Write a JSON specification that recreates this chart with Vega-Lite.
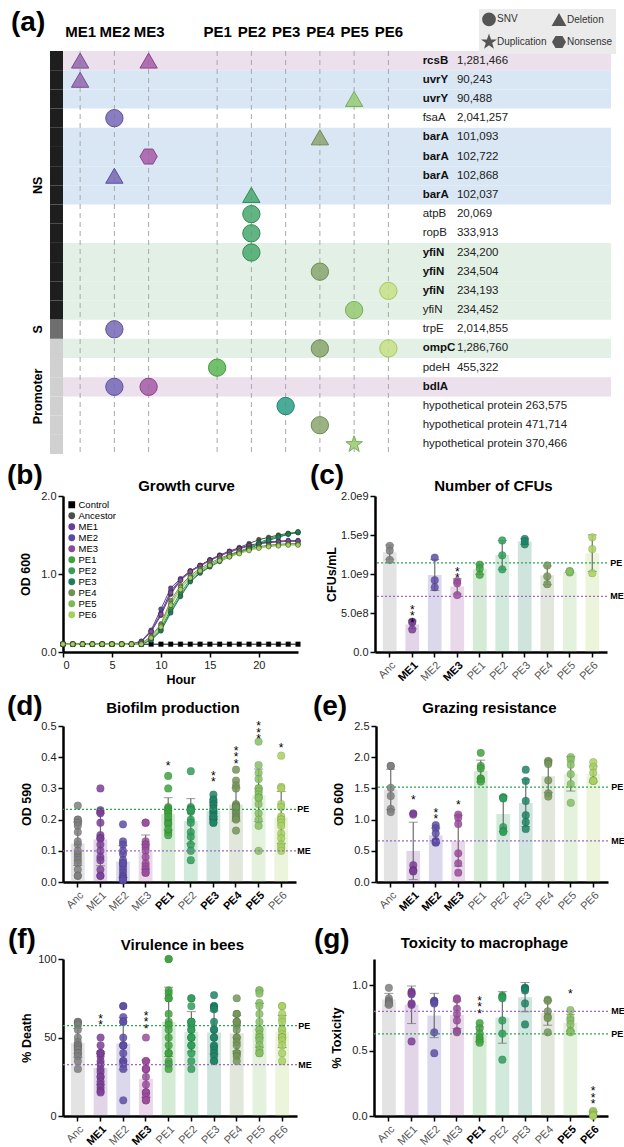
{
"$schema": "https://vega.github.io/schema/vega-lite/v6.json",
"background": "white",
"padding": {"left": 6, "top": 9, "right": 0, "bottom": 0},
"config": {
  "font": "Liberation Sans",
  "view": {"stroke": null},
  "axis": {"domainColor": "#000", "domainWidth": 2.5, "tickColor": "#000", "tickWidth": 1.5, "tickSize": 5, "labelFontSize": 11, "labelColor": "#222", "titleFontSize": 12.5, "titleFontWeight": "bold", "titleColor": "#000", "grid": false, "labelPadding": 2, "labelOverlap": false},
  "text": {"color": "#000"}
},
"resolve": {"scale": {"color": "independent", "fill": "independent", "stroke": "independent", "shape": "independent"}, "legend": {"color": "independent", "fill": "independent", "stroke": "independent", "shape": "independent"}},
"datasets": {
  "arows": [
    {"id": "rcsB 1,281,466", "gene": "rcsB", "pos": "1,281,466", "b": 1, "band": "purple", "cat": "NS"},
    {"id": "uvrY 90,243", "gene": "uvrY", "pos": "90,243", "b": 1, "band": "blue", "cat": "NS"},
    {"id": "uvrY 90,488", "gene": "uvrY", "pos": "90,488", "b": 1, "band": "blue", "cat": "NS"},
    {"id": "fsaA 2,041,257", "gene": "fsaA", "pos": "2,041,257", "b": 0, "band": "none", "cat": "NS"},
    {"id": "barA 101,093", "gene": "barA", "pos": "101,093", "b": 1, "band": "blue", "cat": "NS"},
    {"id": "barA 102,722", "gene": "barA", "pos": "102,722", "b": 1, "band": "blue", "cat": "NS"},
    {"id": "barA 102,868", "gene": "barA", "pos": "102,868", "b": 1, "band": "blue", "cat": "NS"},
    {"id": "barA 102,037", "gene": "barA", "pos": "102,037", "b": 1, "band": "blue", "cat": "NS"},
    {"id": "atpB 20,069", "gene": "atpB", "pos": "20,069", "b": 0, "band": "none", "cat": "NS"},
    {"id": "ropB 333,913", "gene": "ropB", "pos": "333,913", "b": 0, "band": "none", "cat": "NS"},
    {"id": "yfiN 234,200", "gene": "yfiN", "pos": "234,200", "b": 1, "band": "green", "cat": "NS"},
    {"id": "yfiN 234,504", "gene": "yfiN", "pos": "234,504", "b": 1, "band": "green", "cat": "NS"},
    {"id": "yfiN 234,193", "gene": "yfiN", "pos": "234,193", "b": 1, "band": "green", "cat": "NS"},
    {"id": "yfiN 234,452", "gene": "yfiN", "pos": "234,452", "b": 0, "band": "green", "cat": "NS"},
    {"id": "trpE 2,014,855", "gene": "trpE", "pos": "2,014,855", "b": 0, "band": "none", "cat": "S"},
    {"id": "ompC 1,286,760", "gene": "ompC", "pos": "1,286,760", "b": 1, "band": "green", "cat": "Promoter"},
    {"id": "pdeH 455,322", "gene": "pdeH", "pos": "455,322", "b": 0, "band": "none", "cat": "Promoter"},
    {"id": "bdlA", "gene": "bdlA", "pos": "", "b": 1, "band": "purple", "cat": "Promoter"},
    {"id": "hypothetical protein 263,575", "gene": "hypothetical protein 263,575", "pos": "", "b": 0, "band": "none", "cat": "Promoter"},
    {"id": "hypothetical protein 471,714", "gene": "hypothetical protein 471,714", "pos": "", "b": 0, "band": "none", "cat": "Promoter"},
    {"id": "hypothetical protein 370,466", "gene": "hypothetical protein 370,466", "pos": "", "b": 0, "band": "none", "cat": "Promoter"}
  ],
  "acols": [{"col": "ME1"}, {"col": "ME2"}, {"col": "ME3"}, {"col": "PE1"}, {"col": "PE2"}, {"col": "PE3"}, {"col": "PE4"}, {"col": "PE5"}, {"col": "PE6"}],
  "muts": [
    {"id": "rcsB 1,281,466", "col": "ME1", "type": "Deletion"},
    {"id": "rcsB 1,281,466", "col": "ME3", "type": "Deletion"},
    {"id": "uvrY 90,243", "col": "ME1", "type": "Deletion"},
    {"id": "uvrY 90,488", "col": "PE5", "type": "Deletion"},
    {"id": "fsaA 2,041,257", "col": "ME2", "type": "SNV"},
    {"id": "barA 101,093", "col": "PE4", "type": "Deletion"},
    {"id": "barA 102,722", "col": "ME3", "type": "Nonsense"},
    {"id": "barA 102,868", "col": "ME2", "type": "Deletion"},
    {"id": "barA 102,037", "col": "PE2", "type": "Deletion"},
    {"id": "atpB 20,069", "col": "PE2", "type": "SNV"},
    {"id": "ropB 333,913", "col": "PE2", "type": "SNV"},
    {"id": "yfiN 234,200", "col": "PE2", "type": "SNV"},
    {"id": "yfiN 234,504", "col": "PE4", "type": "SNV"},
    {"id": "yfiN 234,193", "col": "PE6", "type": "SNV"},
    {"id": "yfiN 234,452", "col": "PE5", "type": "SNV"},
    {"id": "trpE 2,014,855", "col": "ME2", "type": "SNV"},
    {"id": "ompC 1,286,760", "col": "PE4", "type": "SNV"},
    {"id": "ompC 1,286,760", "col": "PE6", "type": "SNV"},
    {"id": "pdeH 455,322", "col": "PE1", "type": "SNV"},
    {"id": "bdlA", "col": "ME2", "type": "SNV"},
    {"id": "bdlA", "col": "ME3", "type": "SNV"},
    {"id": "hypothetical protein 263,575", "col": "PE3", "type": "SNV"},
    {"id": "hypothetical protein 471,714", "col": "PE4", "type": "SNV"},
    {"id": "hypothetical protein 370,466", "col": "PE5", "type": "Duplication"}
  ],
  "growth": [
    {"h": 0, "Control": 0.1, "Ancestor": 0.1, "ME1": 0.1, "ME2": 0.1, "ME3": 0.1, "PE1": 0.1, "PE2": 0.1, "PE3": 0.1, "PE4": 0.1, "PE5": 0.1, "PE6": 0.1},
    {"h": 1, "Control": 0.1, "Ancestor": 0.1, "ME1": 0.1, "ME2": 0.1, "ME3": 0.1, "PE1": 0.1, "PE2": 0.1, "PE3": 0.1, "PE4": 0.1, "PE5": 0.1, "PE6": 0.1},
    {"h": 2, "Control": 0.1, "Ancestor": 0.1, "ME1": 0.1, "ME2": 0.1, "ME3": 0.1, "PE1": 0.1, "PE2": 0.1, "PE3": 0.1, "PE4": 0.1, "PE5": 0.1, "PE6": 0.1},
    {"h": 3, "Control": 0.1, "Ancestor": 0.1, "ME1": 0.1, "ME2": 0.1, "ME3": 0.1, "PE1": 0.1, "PE2": 0.1, "PE3": 0.1, "PE4": 0.1, "PE5": 0.1, "PE6": 0.1},
    {"h": 4, "Control": 0.1, "Ancestor": 0.1, "ME1": 0.1, "ME2": 0.1, "ME3": 0.1, "PE1": 0.1, "PE2": 0.1, "PE3": 0.1, "PE4": 0.1, "PE5": 0.1, "PE6": 0.1},
    {"h": 5, "Control": 0.1, "Ancestor": 0.1, "ME1": 0.1, "ME2": 0.1, "ME3": 0.1, "PE1": 0.1, "PE2": 0.1, "PE3": 0.1, "PE4": 0.1, "PE5": 0.1, "PE6": 0.1},
    {"h": 6, "Control": 0.1, "Ancestor": 0.1, "ME1": 0.1, "ME2": 0.1, "ME3": 0.1, "PE1": 0.1, "PE2": 0.1, "PE3": 0.1, "PE4": 0.1, "PE5": 0.1, "PE6": 0.1},
    {"h": 7, "Control": 0.1, "Ancestor": 0.1, "ME1": 0.1, "ME2": 0.1, "ME3": 0.1, "PE1": 0.1, "PE2": 0.1, "PE3": 0.1, "PE4": 0.1, "PE5": 0.1, "PE6": 0.1},
    {"h": 8, "Control": 0.1, "Ancestor": 0.13, "ME1": 0.13, "ME2": 0.14, "ME3": 0.13, "PE1": 0.1, "PE2": 0.1, "PE3": 0.1, "PE4": 0.11, "PE5": 0.11, "PE6": 0.1},
    {"h": 9, "Control": 0.1, "Ancestor": 0.26, "ME1": 0.27, "ME2": 0.28, "ME3": 0.26, "PE1": 0.17, "PE2": 0.16, "PE3": 0.15, "PE4": 0.2, "PE5": 0.19, "PE6": 0.18},
    {"h": 10, "Control": 0.1, "Ancestor": 0.47, "ME1": 0.5, "ME2": 0.55, "ME3": 0.48, "PE1": 0.3, "PE2": 0.28, "PE3": 0.27, "PE4": 0.36, "PE5": 0.34, "PE6": 0.32},
    {"h": 11, "Control": 0.1, "Ancestor": 0.74, "ME1": 0.78, "ME2": 0.82, "ME3": 0.76, "PE1": 0.55, "PE2": 0.52, "PE3": 0.5, "PE4": 0.66, "PE5": 0.62, "PE6": 0.6},
    {"h": 12, "Control": 0.1, "Ancestor": 0.92, "ME1": 0.93, "ME2": 0.94, "ME3": 0.92, "PE1": 0.76, "PE2": 0.73, "PE3": 0.71, "PE4": 0.85, "PE5": 0.83, "PE6": 0.8},
    {"h": 13, "Control": 0.1, "Ancestor": 1.03, "ME1": 1.04, "ME2": 1.04, "ME3": 1.03, "PE1": 0.93, "PE2": 0.91, "PE3": 0.9, "PE4": 0.98, "PE5": 0.96, "PE6": 0.95},
    {"h": 14, "Control": 0.1, "Ancestor": 1.11, "ME1": 1.11, "ME2": 1.11, "ME3": 1.1, "PE1": 1.04, "PE2": 1.02, "PE3": 1.01, "PE4": 1.07, "PE5": 1.05, "PE6": 1.04},
    {"h": 15, "Control": 0.1, "Ancestor": 1.18, "ME1": 1.18, "ME2": 1.18, "ME3": 1.17, "PE1": 1.12, "PE2": 1.1, "PE3": 1.09, "PE4": 1.14, "PE5": 1.12, "PE6": 1.11},
    {"h": 16, "Control": 0.1, "Ancestor": 1.24, "ME1": 1.24, "ME2": 1.24, "ME3": 1.23, "PE1": 1.18, "PE2": 1.17, "PE3": 1.16, "PE4": 1.2, "PE5": 1.18, "PE6": 1.17},
    {"h": 17, "Control": 0.1, "Ancestor": 1.29, "ME1": 1.29, "ME2": 1.29, "ME3": 1.28, "PE1": 1.24, "PE2": 1.23, "PE3": 1.22, "PE4": 1.25, "PE5": 1.23, "PE6": 1.22},
    {"h": 18, "Control": 0.1, "Ancestor": 1.34, "ME1": 1.33, "ME2": 1.33, "ME3": 1.32, "PE1": 1.29, "PE2": 1.28, "PE3": 1.27, "PE4": 1.29, "PE5": 1.27, "PE6": 1.26},
    {"h": 19, "Control": 0.1, "Ancestor": 1.39, "ME1": 1.37, "ME2": 1.36, "ME3": 1.36, "PE1": 1.34, "PE2": 1.33, "PE3": 1.32, "PE4": 1.32, "PE5": 1.31, "PE6": 1.3},
    {"h": 20, "Control": 0.1, "Ancestor": 1.44, "ME1": 1.39, "ME2": 1.39, "ME3": 1.39, "PE1": 1.4, "PE2": 1.39, "PE3": 1.38, "PE4": 1.35, "PE5": 1.34, "PE6": 1.33},
    {"h": 21, "Control": 0.1, "Ancestor": 1.47, "ME1": 1.41, "ME2": 1.41, "ME3": 1.4, "PE1": 1.45, "PE2": 1.44, "PE3": 1.43, "PE4": 1.37, "PE5": 1.36, "PE6": 1.35},
    {"h": 22, "Control": 0.1, "Ancestor": 1.5, "ME1": 1.42, "ME2": 1.42, "ME3": 1.41, "PE1": 1.49, "PE2": 1.48, "PE3": 1.47, "PE4": 1.38, "PE5": 1.37, "PE6": 1.36},
    {"h": 23, "Control": 0.1, "Ancestor": 1.52, "ME1": 1.42, "ME2": 1.43, "ME3": 1.42, "PE1": 1.52, "PE2": 1.51, "PE3": 1.51, "PE4": 1.39, "PE5": 1.38, "PE6": 1.37},
    {"h": 24, "Control": 0.1, "Ancestor": 1.53, "ME1": 1.42, "ME2": 1.43, "ME3": 1.42, "PE1": 1.54, "PE2": 1.53, "PE3": 1.54, "PE4": 1.39, "PE5": 1.38, "PE6": 1.37}
  ],
  "cfu": [
    {"g": "Anc", "v": 1360000000}, {"g": "Anc", "v": 1300000000}, {"g": "Anc", "v": 1180000000},
    {"g": "ME1", "v": 390000000}, {"g": "ME1", "v": 380000000}, {"g": "ME1", "v": 290000000},
    {"g": "ME2", "v": 1210000000}, {"g": "ME2", "v": 920000000}, {"g": "ME2", "v": 830000000},
    {"g": "ME3", "v": 910000000}, {"g": "ME3", "v": 880000000}, {"g": "ME3", "v": 730000000},
    {"g": "PE1", "v": 1120000000}, {"g": "PE1", "v": 1070000000}, {"g": "PE1", "v": 990000000},
    {"g": "PE2", "v": 1430000000}, {"g": "PE2", "v": 1240000000}, {"g": "PE2", "v": 1060000000},
    {"g": "PE3", "v": 1450000000}, {"g": "PE3", "v": 1380000000}, {"g": "PE3", "v": 1420000000},
    {"g": "PE4", "v": 1110000000}, {"g": "PE4", "v": 970000000}, {"g": "PE4", "v": 870000000},
    {"g": "PE5", "v": 1020000000}, {"g": "PE5", "v": 1040000000}, {"g": "PE5", "v": 1030000000},
    {"g": "PE6", "v": 1470000000}, {"g": "PE6", "v": 1320000000}, {"g": "PE6", "v": 1010000000}
  ],
  "bio": [
    {"g": "Anc", "v": 0.245}, {"g": "Anc", "v": 0.2}, {"g": "Anc", "v": 0.19}, {"g": "Anc", "v": 0.2}, {"g": "Anc", "v": 0.19}, {"g": "Anc", "v": 0.18}, {"g": "Anc", "v": 0.16}, {"g": "Anc", "v": 0.12}, {"g": "Anc", "v": 0.09}, {"g": "Anc", "v": 0.08}, {"g": "Anc", "v": 0.07}, {"g": "Anc", "v": 0.06}, {"g": "Anc", "v": 0.04}, {"g": "Anc", "v": 0.02}, {"g": "Anc", "v": 0.02}, {"g": "Anc", "v": 0.1}, {"g": "Anc", "v": 0.13},
    {"g": "ME1", "v": 0.3}, {"g": "ME1", "v": 0.23}, {"g": "ME1", "v": 0.225}, {"g": "ME1", "v": 0.22}, {"g": "ME1", "v": 0.19}, {"g": "ME1", "v": 0.15}, {"g": "ME1", "v": 0.14}, {"g": "ME1", "v": 0.14}, {"g": "ME1", "v": 0.12}, {"g": "ME1", "v": 0.1}, {"g": "ME1", "v": 0.08}, {"g": "ME1", "v": 0.07}, {"g": "ME1", "v": 0.04}, {"g": "ME1", "v": 0.02}, {"g": "ME1", "v": 0.02},
    {"g": "ME2", "v": 0.185}, {"g": "ME2", "v": 0.13}, {"g": "ME2", "v": 0.12}, {"g": "ME2", "v": 0.1}, {"g": "ME2", "v": 0.09}, {"g": "ME2", "v": 0.07}, {"g": "ME2", "v": 0.06}, {"g": "ME2", "v": 0.05}, {"g": "ME2", "v": 0.04}, {"g": "ME2", "v": 0.03}, {"g": "ME2", "v": 0.02}, {"g": "ME2", "v": 0.015}, {"g": "ME2", "v": 0.01}, {"g": "ME2", "v": 0.005}, {"g": "ME2", "v": 0.06},
    {"g": "ME3", "v": 0.19}, {"g": "ME3", "v": 0.19}, {"g": "ME3", "v": 0.13}, {"g": "ME3", "v": 0.12}, {"g": "ME3", "v": 0.12}, {"g": "ME3", "v": 0.11}, {"g": "ME3", "v": 0.1}, {"g": "ME3", "v": 0.08}, {"g": "ME3", "v": 0.06}, {"g": "ME3", "v": 0.05}, {"g": "ME3", "v": 0.04}, {"g": "ME3", "v": 0.03}, {"g": "ME3", "v": 0.03},
    {"g": "PE1", "v": 0.34}, {"g": "PE1", "v": 0.3}, {"g": "PE1", "v": 0.24}, {"g": "PE1", "v": 0.235}, {"g": "PE1", "v": 0.23}, {"g": "PE1", "v": 0.225}, {"g": "PE1", "v": 0.22}, {"g": "PE1", "v": 0.2}, {"g": "PE1", "v": 0.19}, {"g": "PE1", "v": 0.185}, {"g": "PE1", "v": 0.16}, {"g": "PE1", "v": 0.15}, {"g": "PE1", "v": 0.17}, {"g": "PE1", "v": 0.21},
    {"g": "PE2", "v": 0.355}, {"g": "PE2", "v": 0.24}, {"g": "PE2", "v": 0.235}, {"g": "PE2", "v": 0.23}, {"g": "PE2", "v": 0.23}, {"g": "PE2", "v": 0.225}, {"g": "PE2", "v": 0.2}, {"g": "PE2", "v": 0.19}, {"g": "PE2", "v": 0.16}, {"g": "PE2", "v": 0.145}, {"g": "PE2", "v": 0.12}, {"g": "PE2", "v": 0.1}, {"g": "PE2", "v": 0.07}, {"g": "PE2", "v": 0.23},
    {"g": "PE3", "v": 0.28}, {"g": "PE3", "v": 0.265}, {"g": "PE3", "v": 0.26}, {"g": "PE3", "v": 0.25}, {"g": "PE3", "v": 0.245}, {"g": "PE3", "v": 0.23}, {"g": "PE3", "v": 0.225}, {"g": "PE3", "v": 0.22}, {"g": "PE3", "v": 0.21}, {"g": "PE3", "v": 0.205}, {"g": "PE3", "v": 0.2}, {"g": "PE3", "v": 0.19}, {"g": "PE3", "v": 0.19}, {"g": "PE3", "v": 0.21}, {"g": "PE3", "v": 0.235},
    {"g": "PE4", "v": 0.36}, {"g": "PE4", "v": 0.325}, {"g": "PE4", "v": 0.31}, {"g": "PE4", "v": 0.3}, {"g": "PE4", "v": 0.25}, {"g": "PE4", "v": 0.245}, {"g": "PE4", "v": 0.24}, {"g": "PE4", "v": 0.235}, {"g": "PE4", "v": 0.225}, {"g": "PE4", "v": 0.22}, {"g": "PE4", "v": 0.21}, {"g": "PE4", "v": 0.205}, {"g": "PE4", "v": 0.2}, {"g": "PE4", "v": 0.165}, {"g": "PE4", "v": 0.24},
    {"g": "PE5", "v": 0.45}, {"g": "PE5", "v": 0.375}, {"g": "PE5", "v": 0.35}, {"g": "PE5", "v": 0.33}, {"g": "PE5", "v": 0.3}, {"g": "PE5", "v": 0.3}, {"g": "PE5", "v": 0.29}, {"g": "PE5", "v": 0.28}, {"g": "PE5", "v": 0.27}, {"g": "PE5", "v": 0.25}, {"g": "PE5", "v": 0.22}, {"g": "PE5", "v": 0.2}, {"g": "PE5", "v": 0.18}, {"g": "PE5", "v": 0.1}, {"g": "PE5", "v": 0.27},
    {"g": "PE6", "v": 0.405}, {"g": "PE6", "v": 0.305}, {"g": "PE6", "v": 0.3}, {"g": "PE6", "v": 0.25}, {"g": "PE6", "v": 0.24}, {"g": "PE6", "v": 0.21}, {"g": "PE6", "v": 0.2}, {"g": "PE6", "v": 0.2}, {"g": "PE6", "v": 0.19}, {"g": "PE6", "v": 0.18}, {"g": "PE6", "v": 0.155}, {"g": "PE6", "v": 0.14}, {"g": "PE6", "v": 0.12}, {"g": "PE6", "v": 0.11}, {"g": "PE6", "v": 0.1}
  ],
  "graz": [
    {"g": "Anc", "v": 1.86}, {"g": "Anc", "v": 1.86}, {"g": "Anc", "v": 1.51}, {"g": "Anc", "v": 1.38}, {"g": "Anc", "v": 1.17}, {"g": "Anc", "v": 1.12},
    {"g": "ME1", "v": 1.1}, {"g": "ME1", "v": 1.08}, {"g": "ME1", "v": 0.27}, {"g": "ME1", "v": 0.19}, {"g": "ME1", "v": 0.18}, {"g": "ME1", "v": 0.17},
    {"g": "ME2", "v": 0.91}, {"g": "ME2", "v": 0.86}, {"g": "ME2", "v": 0.78}, {"g": "ME2", "v": 0.66}, {"g": "ME2", "v": 0.64}, {"g": "ME2", "v": 0.63},
    {"g": "ME3", "v": 1.08}, {"g": "ME3", "v": 1.03}, {"g": "ME3", "v": 0.93}, {"g": "ME3", "v": 0.46}, {"g": "ME3", "v": 0.3}, {"g": "ME3", "v": 0.15},
    {"g": "PE1", "v": 2.07}, {"g": "PE1", "v": 1.86}, {"g": "PE1", "v": 1.82}, {"g": "PE1", "v": 1.66}, {"g": "PE1", "v": 1.65}, {"g": "PE1", "v": 1.61},
    {"g": "PE2", "v": 1.36}, {"g": "PE2", "v": 1.35}, {"g": "PE2", "v": 1.34}, {"g": "PE2", "v": 0.88}, {"g": "PE2", "v": 0.82}, {"g": "PE2", "v": 0.8},
    {"g": "PE3", "v": 1.8}, {"g": "PE3", "v": 1.62}, {"g": "PE3", "v": 1.3}, {"g": "PE3", "v": 1.07}, {"g": "PE3", "v": 0.96}, {"g": "PE3", "v": 0.85},
    {"g": "PE4", "v": 1.94}, {"g": "PE4", "v": 1.92}, {"g": "PE4", "v": 1.89}, {"g": "PE4", "v": 1.63}, {"g": "PE4", "v": 1.42}, {"g": "PE4", "v": 1.37},
    {"g": "PE5", "v": 2.0}, {"g": "PE5", "v": 1.96}, {"g": "PE5", "v": 1.88}, {"g": "PE5", "v": 1.73}, {"g": "PE5", "v": 1.57}, {"g": "PE5", "v": 1.27},
    {"g": "PE6", "v": 1.92}, {"g": "PE6", "v": 1.84}, {"g": "PE6", "v": 1.75}, {"g": "PE6", "v": 1.63}, {"g": "PE6", "v": 1.62}, {"g": "PE6", "v": 1.62}
  ],
  "bee": [
    {"g": "Anc", "v": 60}, {"g": "Anc", "v": 60}, {"g": "Anc", "v": 59}, {"g": "Anc", "v": 58}, {"g": "Anc", "v": 55}, {"g": "Anc", "v": 50}, {"g": "Anc", "v": 47}, {"g": "Anc", "v": 45}, {"g": "Anc", "v": 45}, {"g": "Anc", "v": 44}, {"g": "Anc", "v": 43}, {"g": "Anc", "v": 42}, {"g": "Anc", "v": 40}, {"g": "Anc", "v": 40}, {"g": "Anc", "v": 38}, {"g": "Anc", "v": 35}, {"g": "Anc", "v": 30},
    {"g": "ME1", "v": 50}, {"g": "ME1", "v": 45}, {"g": "ME1", "v": 40}, {"g": "ME1", "v": 40}, {"g": "ME1", "v": 38}, {"g": "ME1", "v": 35}, {"g": "ME1", "v": 33}, {"g": "ME1", "v": 30}, {"g": "ME1", "v": 28}, {"g": "ME1", "v": 25}, {"g": "ME1", "v": 25}, {"g": "ME1", "v": 22}, {"g": "ME1", "v": 20}, {"g": "ME1", "v": 18}, {"g": "ME1", "v": 16}, {"g": "ME1", "v": 15}, {"g": "ME1", "v": 40},
    {"g": "ME2", "v": 70}, {"g": "ME2", "v": 70}, {"g": "ME2", "v": 63}, {"g": "ME2", "v": 60}, {"g": "ME2", "v": 60}, {"g": "ME2", "v": 50}, {"g": "ME2", "v": 45}, {"g": "ME2", "v": 45}, {"g": "ME2", "v": 40}, {"g": "ME2", "v": 35}, {"g": "ME2", "v": 35}, {"g": "ME2", "v": 33}, {"g": "ME2", "v": 30}, {"g": "ME2", "v": 10}, {"g": "ME2", "v": 45},
    {"g": "ME3", "v": 50}, {"g": "ME3", "v": 35}, {"g": "ME3", "v": 35}, {"g": "ME3", "v": 30}, {"g": "ME3", "v": 30}, {"g": "ME3", "v": 25}, {"g": "ME3", "v": 20}, {"g": "ME3", "v": 15}, {"g": "ME3", "v": 15}, {"g": "ME3", "v": 15}, {"g": "ME3", "v": 12}, {"g": "ME3", "v": 10}, {"g": "ME3", "v": 10}, {"g": "ME3", "v": 30},
    {"g": "PE1", "v": 100}, {"g": "PE1", "v": 100}, {"g": "PE1", "v": 80}, {"g": "PE1", "v": 78}, {"g": "PE1", "v": 75}, {"g": "PE1", "v": 75}, {"g": "PE1", "v": 65}, {"g": "PE1", "v": 60}, {"g": "PE1", "v": 58}, {"g": "PE1", "v": 55}, {"g": "PE1", "v": 50}, {"g": "PE1", "v": 45}, {"g": "PE1", "v": 40}, {"g": "PE1", "v": 40}, {"g": "PE1", "v": 35}, {"g": "PE1", "v": 33}, {"g": "PE1", "v": 30},
    {"g": "PE2", "v": 75}, {"g": "PE2", "v": 75}, {"g": "PE2", "v": 70}, {"g": "PE2", "v": 60}, {"g": "PE2", "v": 60}, {"g": "PE2", "v": 58}, {"g": "PE2", "v": 55}, {"g": "PE2", "v": 55}, {"g": "PE2", "v": 50}, {"g": "PE2", "v": 50}, {"g": "PE2", "v": 50}, {"g": "PE2", "v": 45}, {"g": "PE2", "v": 45}, {"g": "PE2", "v": 40}, {"g": "PE2", "v": 35}, {"g": "PE2", "v": 30}, {"g": "PE2", "v": 60},
    {"g": "PE3", "v": 77}, {"g": "PE3", "v": 70}, {"g": "PE3", "v": 70}, {"g": "PE3", "v": 69}, {"g": "PE3", "v": 68}, {"g": "PE3", "v": 60}, {"g": "PE3", "v": 55}, {"g": "PE3", "v": 55}, {"g": "PE3", "v": 50}, {"g": "PE3", "v": 45}, {"g": "PE3", "v": 44}, {"g": "PE3", "v": 42}, {"g": "PE3", "v": 40}, {"g": "PE3", "v": 38}, {"g": "PE3", "v": 35}, {"g": "PE3", "v": 35}, {"g": "PE3", "v": 50},
    {"g": "PE4", "v": 75}, {"g": "PE4", "v": 65}, {"g": "PE4", "v": 65}, {"g": "PE4", "v": 60}, {"g": "PE4", "v": 60}, {"g": "PE4", "v": 58}, {"g": "PE4", "v": 55}, {"g": "PE4", "v": 50}, {"g": "PE4", "v": 50}, {"g": "PE4", "v": 47}, {"g": "PE4", "v": 45}, {"g": "PE4", "v": 40}, {"g": "PE4", "v": 40}, {"g": "PE4", "v": 38}, {"g": "PE4", "v": 35}, {"g": "PE4", "v": 60},
    {"g": "PE5", "v": 80}, {"g": "PE5", "v": 80}, {"g": "PE5", "v": 78}, {"g": "PE5", "v": 72}, {"g": "PE5", "v": 70}, {"g": "PE5", "v": 65}, {"g": "PE5", "v": 60}, {"g": "PE5", "v": 55}, {"g": "PE5", "v": 55}, {"g": "PE5", "v": 52}, {"g": "PE5", "v": 50}, {"g": "PE5", "v": 50}, {"g": "PE5", "v": 48}, {"g": "PE5", "v": 45}, {"g": "PE5", "v": 42}, {"g": "PE5", "v": 40}, {"g": "PE5", "v": 40},
    {"g": "PE6", "v": 70}, {"g": "PE6", "v": 70}, {"g": "PE6", "v": 65}, {"g": "PE6", "v": 62}, {"g": "PE6", "v": 60}, {"g": "PE6", "v": 55}, {"g": "PE6", "v": 55}, {"g": "PE6", "v": 52}, {"g": "PE6", "v": 50}, {"g": "PE6", "v": 50}, {"g": "PE6", "v": 50}, {"g": "PE6", "v": 48}, {"g": "PE6", "v": 45}, {"g": "PE6", "v": 40}, {"g": "PE6", "v": 35}
  ],
  "tox": [
    {"g": "Anc", "v": 0.98}, {"g": "Anc", "v": 0.9}, {"g": "Anc", "v": 0.88}, {"g": "Anc", "v": 0.87}, {"g": "Anc", "v": 0.86}, {"g": "Anc", "v": 0.85},
    {"g": "ME1", "v": 0.95}, {"g": "ME1", "v": 0.94}, {"g": "ME1", "v": 0.93}, {"g": "ME1", "v": 0.86}, {"g": "ME1", "v": 0.85}, {"g": "ME1", "v": 0.57},
    {"g": "ME2", "v": 0.88}, {"g": "ME2", "v": 0.88}, {"g": "ME2", "v": 0.87}, {"g": "ME2", "v": 0.86}, {"g": "ME2", "v": 0.64}, {"g": "ME2", "v": 0.48},
    {"g": "ME3", "v": 0.9}, {"g": "ME3", "v": 0.89}, {"g": "ME3", "v": 0.82}, {"g": "ME3", "v": 0.78}, {"g": "ME3", "v": 0.73}, {"g": "ME3", "v": 0.65}, {"g": "ME3", "v": 0.64},
    {"g": "PE1", "v": 0.71}, {"g": "PE1", "v": 0.67}, {"g": "PE1", "v": 0.63}, {"g": "PE1", "v": 0.6}, {"g": "PE1", "v": 0.58}, {"g": "PE1", "v": 0.56},
    {"g": "PE2", "v": 0.92}, {"g": "PE2", "v": 0.91}, {"g": "PE2", "v": 0.9}, {"g": "PE2", "v": 0.73}, {"g": "PE2", "v": 0.63}, {"g": "PE2", "v": 0.43},
    {"g": "PE3", "v": 0.98}, {"g": "PE3", "v": 0.98}, {"g": "PE3", "v": 0.97}, {"g": "PE3", "v": 0.96}, {"g": "PE3", "v": 0.86}, {"g": "PE3", "v": 0.7},
    {"g": "PE4", "v": 0.89}, {"g": "PE4", "v": 0.88}, {"g": "PE4", "v": 0.8}, {"g": "PE4", "v": 0.76}, {"g": "PE4", "v": 0.75}, {"g": "PE4", "v": 0.64},
    {"g": "PE5", "v": 0.81}, {"g": "PE5", "v": 0.75}, {"g": "PE5", "v": 0.73}, {"g": "PE5", "v": 0.7}, {"g": "PE5", "v": 0.65}, {"g": "PE5", "v": 0.64},
    {"g": "PE6", "v": 0.04}, {"g": "PE6", "v": 0.03}, {"g": "PE6", "v": 0.02}, {"g": "PE6", "v": 0.01}, {"g": "PE6", "v": 0.005}, {"g": "PE6", "v": 0.0}
  ]
},
"columns": 1,
"align": "none",
"spacing": 13,
"concat": [
 {
  "columns": 1,
  "align": "none",
  "spacing": 7,
  "resolve": {"scale": {"color": "independent", "fill": "independent", "stroke": "independent", "shape": "independent"}, "legend": {"color": "independent", "fill": "independent", "stroke": "independent", "shape": "independent"}},
  "concat": [
   {
    "width": 548, "height": 403,
    "resolve": {"scale": {"x": "independent", "color": "independent", "stroke": "independent"}, "axis": {"x": "independent"}},
    "layer": [
     {
      "resolve": {"scale": {"stroke": "independent", "color": "independent"}},
      "layer": [
       {"data": {"name": "arows"}, "transform": [{"filter": "datum.band != 'none'"}], "mark": {"type": "rect"},
        "encoding": {
         "y": {"field": "id", "type": "nominal", "scale": {"domain": ["rcsB 1,281,466", "uvrY 90,243", "uvrY 90,488", "fsaA 2,041,257", "barA 101,093", "barA 102,722", "barA 102,868", "barA 102,037", "atpB 20,069", "ropB 333,913", "yfiN 234,200", "yfiN 234,504", "yfiN 234,193", "yfiN 234,452", "trpE 2,014,855", "ompC 1,286,760", "pdeH 455,322", "bdlA", "hypothetical protein 263,575", "hypothetical protein 471,714", "hypothetical protein 370,466"], "paddingInner": 0, "paddingOuter": 0}, "axis": null},
         "color": {"field": "band", "type": "nominal", "scale": {"domain": ["purple", "blue", "green"], "range": ["#ebe0ec", "#d9e7f4", "#e2f0e5"]}, "legend": null}}},
       {"data": {"name": "acols"}, "mark": {"type": "rule", "strokeDash": [5, 4], "color": "#a8a8a8", "strokeWidth": 1},
        "encoding": {
         "x": {"field": "col", "type": "nominal", "scale": {"type": "point", "domain": ["ME1", "ME2", "ME3", "_gap", "PE1", "PE2", "PE3", "PE4", "PE5", "PE6", "_gene", "_pos", "_e1", "_e2", "_e3", "_e4"], "padding": 0.5},
           "axis": {"orient": "top", "title": null, "domain": false, "ticks": false, "tickSize": 0, "labelAngle": 0, "labelFontSize": 15, "labelFontWeight": "bold", "labelColor": "#000", "labelPadding": 12, "labelExpr": "indexof(datum.label, '_') == 0 ? '' : datum.label"}}}},
       {"data": {"name": "arows"}, "transform": [{"filter": "datum.b == 1"}], "mark": {"type": "text", "align": "left", "fontSize": 11.5, "fontWeight": "bold", "color": "#111"},
        "encoding": {"x": {"datum": "_gene", "type": "nominal"}, "y": {"field": "id", "type": "nominal", "axis": null}, "text": {"field": "gene"}}},
       {"data": {"name": "arows"}, "transform": [{"filter": "datum.b == 0"}], "mark": {"type": "text", "align": "left", "fontSize": 11.5, "color": "#222"},
        "encoding": {"x": {"datum": "_gene", "type": "nominal"}, "y": {"field": "id", "type": "nominal", "axis": null}, "text": {"field": "gene"}}},
       {"data": {"name": "arows"}, "mark": {"type": "text", "align": "left", "fontSize": 11.5, "color": "#222"},
        "encoding": {"x": {"datum": "_pos", "type": "nominal"}, "y": {"field": "id", "type": "nominal", "axis": null}, "text": {"field": "pos"}}},
       {"data": {"name": "muts"}, "mark": {"type": "point", "filled": true, "size": 300, "fillOpacity": 0.85, "strokeWidth": 1},
        "encoding": {
         "x": {"field": "col", "type": "nominal"},
         "y": {"field": "id", "type": "nominal", "axis": null},
         "shape": {"field": "type", "type": "nominal", "scale": {"domain": ["SNV", "Duplication", "Deletion", "Nonsense"], "range": ["circle", "M0,-1L0.235,-0.324L0.951,-0.309L0.38,0.124L0.588,0.809L0,0.4L-0.588,0.809L-0.38,0.124L-0.951,-0.309L-0.235,-0.324Z", "triangle-up", "M-1,0L-0.5,-0.866L0.5,-0.866L1,0L0.5,0.866L-0.5,0.866Z"]},
           "legend": {"orient": "none", "legendX": 416, "legendY": -42, "title": null, "columns": 2, "fillColor": "#ebebeb", "padding": 3, "symbolSize": 150, "symbolFillColor": "#555555", "symbolStrokeColor": "#555555", "symbolOpacity": 1, "labelFontSize": 10, "labelColor": "#333", "columnPadding": 2, "rowPadding": 3, "labelOffset": 1}},
         "fill": {"field": "col", "type": "nominal", "scale": {"domain": ["ME1", "ME2", "ME3", "PE1", "PE2", "PE3", "PE4", "PE5", "PE6"], "range": ["#9367ad", "#7566b5", "#a45aa6", "#5ab552", "#46a86d", "#2a9d85", "#8aa56f", "#95ca72", "#c6e186"]}, "legend": null},
         "stroke": {"field": "col", "type": "nominal", "scale": {"domain": ["ME1", "ME2", "ME3", "PE1", "PE2", "PE3", "PE4", "PE5", "PE6"], "range": ["#7a4f96", "#5f529e", "#8a468c", "#42983c", "#338a55", "#1d826c", "#6f8b56", "#78ad58", "#a8c565"]}, "legend": null}}}
      ]
     },
     {
      "layer": [
       {"data": {"name": "arows"}, "mark": {"type": "rect"},
        "encoding": {
         "x": {"datum": 0, "type": "quantitative", "scale": {"domain": [0, 1], "range": [-13, 0]}, "axis": null},
         "x2": {"datum": 1},
         "y": {"field": "id", "type": "nominal", "axis": null},
         "color": {"field": "cat", "type": "nominal", "scale": {"domain": ["NS", "S", "Promoter"], "range": ["#1e1e1e", "#6e6e6e", "#d0d0d0"]}, "legend": null}}},
       {"data": {"values": [{"cat": "NS", "at": "barA 102,037"}, {"cat": "Promoter", "at": "hypothetical protein 263,575"}]},
        "mark": {"type": "text", "angle": 270, "baseline": "bottom", "dy": -5, "fontSize": 12.5, "fontWeight": "bold"},
        "encoding": {"x": {"datum": 0, "type": "quantitative"}, "y": {"field": "at", "type": "nominal", "bandPosition": 0, "axis": null}, "text": {"field": "cat"}}},
       {"data": {"values": [{"cat": "S", "at": "trpE 2,014,855"}]},
        "mark": {"type": "text", "angle": 270, "baseline": "bottom", "dy": -5, "fontSize": 12.5, "fontWeight": "bold"},
        "encoding": {"x": {"datum": 0, "type": "quantitative"}, "y": {"field": "at", "type": "nominal", "axis": null}, "text": {"field": "cat"}}},
       {"data": {"values": [{"t": "(a)"}]},
        "mark": {"type": "text", "align": "left", "baseline": "alphabetic", "fontSize": 28, "fontWeight": "bold", "dx": -39, "dy": -20},
        "encoding": {"x": {"datum": 0, "type": "quantitative"}, "y": {"datum": "rcsB 1,281,466", "type": "nominal", "bandPosition": 0, "axis": null}, "text": {"field": "t"}}}
      ]
     }
    ]
   },
   {
    "columns": 2,
    "align": "none",
    "spacing": 7,
    "resolve": {"scale": {"color": "independent", "fill": "independent", "stroke": "independent", "shape": "independent"}, "legend": {"color": "independent", "fill": "independent", "stroke": "independent", "shape": "independent"}},
    "concat": [
     {
      "width": 235, "height": 156,
      "layer": [
       {"data": {"name": "growth"},
        "transform": [{"fold": ["Control", "Ancestor", "ME1", "ME2", "ME3", "PE1", "PE2", "PE3", "PE4", "PE5", "PE6"], "as": ["s", "od"]}],
        "mark": {"type": "line", "strokeWidth": 1},
        "encoding": {
         "x": {"field": "h", "type": "quantitative", "scale": {"domain": [0, 24], "nice": false}, "axis": {"values": [0, 5, 10, 15, 20], "title": "Hour", "titlePadding": 3}},
         "y": {"field": "od", "type": "quantitative", "scale": {"domain": [0, 2], "nice": false}, "axis": {"values": [0, 0.5, 1, 1.5, 2], "format": ".1f", "title": "OD 600", "titlePadding": 8, "labelOverlap": false}},
         "color": {"field": "s", "type": "nominal", "scale": {"domain": ["Control", "Ancestor", "ME1", "ME2", "ME3", "PE1", "PE2", "PE3", "PE4", "PE5", "PE6"], "range": ["#000000", "#4d4d4d", "#6a3d9a", "#5b4aa3", "#8b4c9c", "#3fa33f", "#3a9d5d", "#1f7d5f", "#6f9250", "#7db85b", "#a6d05e"]},
           "legend": {"orient": "top-left", "title": null, "offset": 4, "labelFontSize": 9.5, "symbolSize": 28, "rowPadding": -1.5, "labelOffset": 2, "padding": 0}}}},
       {"data": {"name": "growth"},
        "transform": [{"fold": ["Control", "Ancestor", "ME1", "ME2", "ME3", "PE1", "PE2", "PE3", "PE4", "PE5", "PE6"], "as": ["s", "od"]}],
        "mark": {"type": "point", "filled": true, "size": 22, "opacity": 1, "stroke": "#222", "strokeWidth": 0.4},
        "encoding": {
         "x": {"field": "h", "type": "quantitative", "title": "Hour"},
         "y": {"field": "od", "type": "quantitative", "title": "OD 600"},
         "color": {"field": "s", "type": "nominal", "legend": {"orient": "top-left", "title": null, "offset": 4, "labelFontSize": 9.5, "symbolSize": 28, "rowPadding": -1.5, "labelOffset": 2, "padding": 0}},
         "shape": {"field": "s", "type": "nominal", "scale": {"domain": ["Control", "Ancestor", "ME1", "ME2", "ME3", "PE1", "PE2", "PE3", "PE4", "PE5", "PE6"], "range": ["square", "circle", "circle", "circle", "circle", "circle", "circle", "circle", "circle", "circle", "circle"]}, "legend": {"orient": "top-left", "title": null, "offset": 4, "labelFontSize": 9.5, "symbolSize": 28, "rowPadding": -1.5, "labelOffset": 2, "padding": 0}}}},
       {"data": {"values": [{"t": "Growth curve"}]}, "mark": {"type": "text", "fontSize": 15, "fontWeight": "bold", "baseline": "alphabetic", "dx": 6, "dy": -5},
        "encoding": {"x": {"datum": 12, "type": "quantitative"}, "y": {"datum": 2, "type": "quantitative"}, "text": {"field": "t"}}},
       {"data": {"values": [{"t": "(b)"}]}, "mark": {"type": "text", "fontSize": 28, "fontWeight": "bold", "align": "left", "baseline": "alphabetic", "dx": -56, "dy": -12},
        "encoding": {"x": {"datum": 0, "type": "quantitative"}, "y": {"datum": 2, "type": "quantitative"}, "text": {"field": "t"}}}
      ]
     },
     {
      "width": 232, "height": 156,
      "layer": [
       {"data": {"name": "cfu"}, "mark": {"type": "bar", "opacity": 0.22},
        "encoding": {
         "x": {"field": "g", "type": "nominal", "title": null, "scale": {"domain": ["Anc", "ME1", "ME2", "ME3", "PE1", "PE2", "PE3", "PE4", "PE5", "PE6"], "paddingInner": 0.39, "paddingOuter": 0.35},
           "axis": {"labelAngle": -45, "labelFontSize": 11, "labelPadding": 2, "labelFontWeight": {"condition": {"test": "indexof(['ME1','ME3'], datum.value) >= 0", "value": "bold"}, "value": "normal"}, "labelColor": {"condition": {"test": "indexof(['ME1','ME3'], datum.value) >= 0", "value": "#000"}, "value": "#555"}}},
         "y": {"aggregate": "mean", "field": "v", "type": "quantitative", "scale": {"domain": [0, 2000000000], "nice": false}, "axis": {"title": "CFUs/mL", "values": [0, 500000000, 1000000000, 1500000000, 2000000000], "labelExpr": "datum.value == 0 ? '0.0' : replace(format(datum.value, '.1e'), '+', '')", "titlePadding": 2, "labelOverlap": false}},
         "color": {"field": "g", "type": "nominal", "scale": {"domain": ["Anc", "ME1", "ME2", "ME3", "PE1", "PE2", "PE3", "PE4", "PE5", "PE6"], "range": ["#7f7f7f", "#7b3f98", "#5f4ea8", "#9c4c9c", "#3fa33f", "#2f9e5a", "#1e8466", "#759559", "#86c064", "#a8d161"]}, "legend": null}}},
       {"data": {"name": "cfu"}, "mark": {"type": "errorbar", "extent": "stdev", "color": "#6e6e6e", "ticks": {"size": 9, "color": "#6e6e6e"}, "rule": {"strokeWidth": 1.2}},
        "encoding": {"x": {"field": "g", "type": "nominal", "title": null}, "y": {"field": "v", "type": "quantitative", "axis": {"title": "CFUs/mL", "values": [0, 500000000, 1000000000, 1500000000, 2000000000], "labelExpr": "datum.value == 0 ? '0.0' : replace(format(datum.value, '.1e'), '+', '')", "titlePadding": 2, "labelOverlap": false}}}},
       {"data": {"name": "cfu"}, "mark": {"type": "circle", "size": 60, "opacity": 0.85, "stroke": "#000", "strokeOpacity": 0.2, "strokeWidth": 0.6},
        "encoding": {"x": {"field": "g", "type": "nominal", "title": null}, "y": {"field": "v", "type": "quantitative", "axis": {"title": "CFUs/mL", "values": [0, 500000000, 1000000000, 1500000000, 2000000000], "labelExpr": "datum.value == 0 ? '0.0' : replace(format(datum.value, '.1e'), '+', '')", "titlePadding": 2, "labelOverlap": false}}, "color": {"field": "g", "type": "nominal", "legend": null}}},
       {"data": {"values": [{"r": "PE", "v": 1143000000}, {"r": "ME", "v": 713000000}]}, "mark": {"type": "rule", "strokeDash": [2, 2], "strokeWidth": 1.3},
        "encoding": {"y": {"field": "v", "type": "quantitative", "axis": {"title": "CFUs/mL", "values": [0, 500000000, 1000000000, 1500000000, 2000000000], "labelExpr": "datum.value == 0 ? '0.0' : replace(format(datum.value, '.1e'), '+', '')", "titlePadding": 2, "labelOverlap": false}}, "stroke": {"field": "r", "type": "nominal", "scale": {"domain": ["PE", "ME"], "range": ["#2ea44f", "#a066c8"]}, "legend": null}}},
       {"data": {"values": [{"r": "PE", "v": 1143000000}, {"r": "ME", "v": 713000000}]}, "mark": {"type": "text", "align": "left", "dx": 18, "fontSize": 9, "fontWeight": "bold"},
        "encoding": {"x": {"datum": "PE6", "type": "nominal"}, "y": {"field": "v", "type": "quantitative", "axis": {"title": "CFUs/mL", "values": [0, 500000000, 1000000000, 1500000000, 2000000000], "labelExpr": "datum.value == 0 ? '0.0' : replace(format(datum.value, '.1e'), '+', '')", "titlePadding": 2, "labelOverlap": false}}, "text": {"field": "r"}}},
       {"data": {"values": [{"g": "ME1", "y": 540000000, "t": "*\n*\n*"}, {"g": "ME3", "y": 1030000000, "t": "*\n*"}]}, "mark": {"type": "text", "lineBreak": "\n", "lineHeight": 6.5, "fontSize": 12, "baseline": "middle"},
        "encoding": {"x": {"field": "g", "type": "nominal", "title": null}, "y": {"field": "y", "type": "quantitative", "axis": {"title": "CFUs/mL", "values": [0, 500000000, 1000000000, 1500000000, 2000000000], "labelExpr": "datum.value == 0 ? '0.0' : replace(format(datum.value, '.1e'), '+', '')", "titlePadding": 2, "labelOverlap": false}}, "text": {"field": "t"}}},
       {"data": {"values": [{"t": "Number of CFUs"}]}, "mark": {"type": "text", "fontSize": 15, "fontWeight": "bold", "baseline": "alphabetic", "dx": -2, "dy": -5},
        "encoding": {"x": {"datum": "PE2", "type": "nominal", "bandPosition": 0}, "y": {"datum": 2000000000, "type": "quantitative", "axis": {"title": "CFUs/mL", "values": [0, 500000000, 1000000000, 1500000000, 2000000000], "labelExpr": "datum.value == 0 ? '0.0' : replace(format(datum.value, '.1e'), '+', '')", "titlePadding": 2, "labelOverlap": false}}, "text": {"field": "t"}}},
       {"data": {"values": [{"t": "(c)"}]}, "mark": {"type": "text", "fontSize": 28, "fontWeight": "bold", "align": "left", "baseline": "alphabetic", "dx": -73, "dy": -12},
        "encoding": {"x": {"datum": "Anc", "type": "nominal", "bandPosition": 0}, "y": {"datum": 2000000000, "type": "quantitative", "axis": {"title": "CFUs/mL", "values": [0, 500000000, 1000000000, 1500000000, 2000000000], "labelExpr": "datum.value == 0 ? '0.0' : replace(format(datum.value, '.1e'), '+', '')", "titlePadding": 2, "labelOverlap": false}}, "text": {"field": "t"}}}
      ]
     }
    ]
   },
   {
    "columns": 2,
    "align": "none",
    "spacing": 1,
    "resolve": {"scale": {"color": "independent", "fill": "independent", "stroke": "independent", "shape": "independent"}, "legend": {"color": "independent", "fill": "independent", "stroke": "independent", "shape": "independent"}},
    "concat": [
     {
      "width": 233, "height": 156,
      "layer": [
       {"data": {"name": "bio"}, "mark": {"type": "bar", "opacity": 0.22},
        "encoding": {
         "x": {"field": "g", "type": "nominal", "title": null, "scale": {"domain": ["Anc", "ME1", "ME2", "ME3", "PE1", "PE2", "PE3", "PE4", "PE5", "PE6"], "paddingInner": 0.39, "paddingOuter": 0.35},
           "axis": {"labelAngle": -45, "labelFontSize": 11, "labelPadding": 2, "labelFontWeight": {"condition": {"test": "indexof(['PE1','PE3','PE4','PE5'], datum.value) >= 0", "value": "bold"}, "value": "normal"}, "labelColor": {"condition": {"test": "indexof(['PE1','PE3','PE4','PE5'], datum.value) >= 0", "value": "#000"}, "value": "#555"}}},
         "y": {"aggregate": "mean", "field": "v", "type": "quantitative", "scale": {"domain": [0, 0.5], "nice": false}, "axis": {"title": "OD 590", "values": [0, 0.1, 0.2, 0.3, 0.4, 0.5], "format": ".1f", "titlePadding": 7, "labelOverlap": false}},
         "color": {"field": "g", "type": "nominal", "scale": {"domain": ["Anc", "ME1", "ME2", "ME3", "PE1", "PE2", "PE3", "PE4", "PE5", "PE6"], "range": ["#7f7f7f", "#7b3f98", "#5f4ea8", "#9c4c9c", "#3fa33f", "#2f9e5a", "#1e8466", "#759559", "#86c064", "#a8d161"]}, "legend": null}}},
       {"data": {"name": "bio"}, "mark": {"type": "errorbar", "extent": "stdev", "color": "#6e6e6e", "ticks": {"size": 9, "color": "#6e6e6e"}, "rule": {"strokeWidth": 1.2}},
        "encoding": {"x": {"field": "g", "type": "nominal", "title": null}, "y": {"field": "v", "type": "quantitative", "axis": {"title": "OD 590", "values": [0, 0.1, 0.2, 0.3, 0.4, 0.5], "format": ".1f", "titlePadding": 7, "labelOverlap": false}}}},
       {"data": {"name": "bio"}, "mark": {"type": "circle", "size": 60, "opacity": 0.85, "stroke": "#000", "strokeOpacity": 0.2, "strokeWidth": 0.6},
        "encoding": {"x": {"field": "g", "type": "nominal", "title": null}, "y": {"field": "v", "type": "quantitative", "axis": {"title": "OD 590", "values": [0, 0.1, 0.2, 0.3, 0.4, 0.5], "format": ".1f", "titlePadding": 7, "labelOverlap": false}}, "color": {"field": "g", "type": "nominal", "legend": null}}},
       {"data": {"values": [{"r": "PE", "v": 0.233}, {"r": "ME", "v": 0.1}]}, "mark": {"type": "rule", "strokeDash": [2, 2], "strokeWidth": 1.3},
        "encoding": {"y": {"field": "v", "type": "quantitative", "axis": {"title": "OD 590", "values": [0, 0.1, 0.2, 0.3, 0.4, 0.5], "format": ".1f", "titlePadding": 7, "labelOverlap": false}}, "stroke": {"field": "r", "type": "nominal", "scale": {"domain": ["PE", "ME"], "range": ["#2ea44f", "#a066c8"]}, "legend": null}}},
       {"data": {"values": [{"r": "PE", "v": 0.233}, {"r": "ME", "v": 0.1}]}, "mark": {"type": "text", "align": "left", "dx": 16, "fontSize": 9, "fontWeight": "bold"},
        "encoding": {"x": {"datum": "PE6", "type": "nominal"}, "y": {"field": "v", "type": "quantitative", "axis": {"title": "OD 590", "values": [0, 0.1, 0.2, 0.3, 0.4, 0.5], "format": ".1f", "titlePadding": 7, "labelOverlap": false}}, "text": {"field": "r"}}},
       {"data": {"values": [{"g": "PE1", "y": 0.372, "t": "*"}, {"g": "PE3", "y": 0.34, "t": "*\n*"}, {"g": "PE4", "y": 0.42, "t": "*\n*\n*"}, {"g": "PE5", "y": 0.5, "t": "*\n*\n*"}, {"g": "PE6", "y": 0.43, "t": "*"}]}, "mark": {"type": "text", "lineBreak": "\n", "lineHeight": 6.5, "fontSize": 12, "baseline": "middle"},
        "encoding": {"x": {"field": "g", "type": "nominal", "title": null}, "y": {"field": "y", "type": "quantitative", "axis": {"title": "OD 590", "values": [0, 0.1, 0.2, 0.3, 0.4, 0.5], "format": ".1f", "titlePadding": 7, "labelOverlap": false}}, "text": {"field": "t"}}},
       {"data": {"values": [{"t": "Biofilm production"}]}, "mark": {"type": "text", "fontSize": 15, "fontWeight": "bold", "baseline": "alphabetic", "dx": -11, "dy": -13},
        "encoding": {"x": {"datum": "PE2", "type": "nominal", "bandPosition": 0}, "y": {"datum": 0.5, "type": "quantitative", "axis": {"title": "OD 590", "values": [0, 0.1, 0.2, 0.3, 0.4, 0.5], "format": ".1f", "titlePadding": 7, "labelOverlap": false}}, "text": {"field": "t"}}},
       {"data": {"values": [{"t": "(d)"}]}, "mark": {"type": "text", "fontSize": 28, "fontWeight": "bold", "align": "left", "baseline": "alphabetic", "dx": -64, "dy": -11},
        "encoding": {"x": {"datum": "Anc", "type": "nominal", "bandPosition": 0}, "y": {"datum": 0.5, "type": "quantitative", "axis": {"title": "OD 590", "values": [0, 0.1, 0.2, 0.3, 0.4, 0.5], "format": ".1f", "titlePadding": 7, "labelOverlap": false}}, "text": {"field": "t"}}}
      ]
     },
     {
      "width": 232, "height": 156,
      "layer": [
       {"data": {"name": "graz"}, "mark": {"type": "bar", "opacity": 0.22},
        "encoding": {
         "x": {"field": "g", "type": "nominal", "title": null, "scale": {"domain": ["Anc", "ME1", "ME2", "ME3", "PE1", "PE2", "PE3", "PE4", "PE5", "PE6"], "paddingInner": 0.39, "paddingOuter": 0.35},
           "axis": {"labelAngle": -45, "labelFontSize": 11, "labelPadding": 2, "labelFontWeight": {"condition": {"test": "indexof(['ME1','ME2','ME3'], datum.value) >= 0", "value": "bold"}, "value": "normal"}, "labelColor": {"condition": {"test": "indexof(['ME1','ME2','ME3'], datum.value) >= 0", "value": "#000"}, "value": "#555"}}},
         "y": {"aggregate": "mean", "field": "v", "type": "quantitative", "scale": {"domain": [0, 2.5], "nice": false}, "axis": {"title": "OD 600", "values": [0, 0.5, 1, 1.5, 2, 2.5], "format": ".1f", "titlePadding": 8, "labelOverlap": false}},
         "color": {"field": "g", "type": "nominal", "scale": {"domain": ["Anc", "ME1", "ME2", "ME3", "PE1", "PE2", "PE3", "PE4", "PE5", "PE6"], "range": ["#7f7f7f", "#7b3f98", "#5f4ea8", "#9c4c9c", "#3fa33f", "#2f9e5a", "#1e8466", "#759559", "#86c064", "#a8d161"]}, "legend": null}}},
       {"data": {"name": "graz"}, "mark": {"type": "errorbar", "extent": "stdev", "color": "#6e6e6e", "ticks": {"size": 9, "color": "#6e6e6e"}, "rule": {"strokeWidth": 1.2}},
        "encoding": {"x": {"field": "g", "type": "nominal", "title": null}, "y": {"field": "v", "type": "quantitative", "axis": {"title": "OD 600", "values": [0, 0.5, 1, 1.5, 2, 2.5], "format": ".1f", "titlePadding": 8, "labelOverlap": false}}}},
       {"data": {"name": "graz"}, "mark": {"type": "circle", "size": 60, "opacity": 0.85, "stroke": "#000", "strokeOpacity": 0.2, "strokeWidth": 0.6},
        "encoding": {"x": {"field": "g", "type": "nominal", "title": null}, "y": {"field": "v", "type": "quantitative", "axis": {"title": "OD 600", "values": [0, 0.5, 1, 1.5, 2, 2.5], "format": ".1f", "titlePadding": 8, "labelOverlap": false}}, "color": {"field": "g", "type": "nominal", "legend": null}}},
       {"data": {"values": [{"r": "PE", "v": 1.52}, {"r": "ME", "v": 0.66}]}, "mark": {"type": "rule", "strokeDash": [2, 2], "strokeWidth": 1.3},
        "encoding": {"y": {"field": "v", "type": "quantitative", "axis": {"title": "OD 600", "values": [0, 0.5, 1, 1.5, 2, 2.5], "format": ".1f", "titlePadding": 8, "labelOverlap": false}}, "stroke": {"field": "r", "type": "nominal", "scale": {"domain": ["PE", "ME"], "range": ["#2ea44f", "#a066c8"]}, "legend": null}}},
       {"data": {"values": [{"r": "PE", "v": 1.52}, {"r": "ME", "v": 0.66}]}, "mark": {"type": "text", "align": "left", "dx": 18, "fontSize": 9, "fontWeight": "bold"},
        "encoding": {"x": {"datum": "PE6", "type": "nominal"}, "y": {"field": "v", "type": "quantitative", "axis": {"title": "OD 600", "values": [0, 0.5, 1, 1.5, 2, 2.5], "format": ".1f", "titlePadding": 8, "labelOverlap": false}}, "text": {"field": "r"}}},
       {"data": {"values": [{"g": "ME1", "y": 1.31, "t": "*"}, {"g": "ME2", "y": 1.11, "t": "*\n*"}, {"g": "ME3", "y": 1.24, "t": "*"}]}, "mark": {"type": "text", "lineBreak": "\n", "lineHeight": 6.5, "fontSize": 12, "baseline": "middle"},
        "encoding": {"x": {"field": "g", "type": "nominal", "title": null}, "y": {"field": "y", "type": "quantitative", "axis": {"title": "OD 600", "values": [0, 0.5, 1, 1.5, 2, 2.5], "format": ".1f", "titlePadding": 8, "labelOverlap": false}}, "text": {"field": "t"}}},
       {"data": {"values": [{"t": "Grazing resistance"}]}, "mark": {"type": "text", "fontSize": 15, "fontWeight": "bold", "baseline": "alphabetic", "dx": -7, "dy": -13},
        "encoding": {"x": {"datum": "PE2", "type": "nominal", "bandPosition": 0}, "y": {"datum": 2.5, "type": "quantitative", "axis": {"title": "OD 600", "values": [0, 0.5, 1, 1.5, 2, 2.5], "format": ".1f", "titlePadding": 8, "labelOverlap": false}}, "text": {"field": "t"}}},
       {"data": {"values": [{"t": "(e)"}]}, "mark": {"type": "text", "fontSize": 28, "fontWeight": "bold", "align": "left", "baseline": "alphabetic", "dx": -71, "dy": -11},
        "encoding": {"x": {"datum": "Anc", "type": "nominal", "bandPosition": 0}, "y": {"datum": 2.5, "type": "quantitative", "axis": {"title": "OD 600", "values": [0, 0.5, 1, 1.5, 2, 2.5], "format": ".1f", "titlePadding": 8, "labelOverlap": false}}, "text": {"field": "t"}}}
      ]
     }
    ]
   }
  ]
 },
 {
  "columns": 2,
  "align": "none",
  "spacing": 1,
  "resolve": {"scale": {"color": "independent", "fill": "independent", "stroke": "independent", "shape": "independent"}, "legend": {"color": "independent", "fill": "independent", "stroke": "independent", "shape": "independent"}},
  "concat": [
   {
    "width": 234, "height": 157,
    "layer": [
     {"data": {"name": "bee"}, "mark": {"type": "bar", "opacity": 0.22},
      "encoding": {
       "x": {"field": "g", "type": "nominal", "title": null, "scale": {"domain": ["Anc", "ME1", "ME2", "ME3", "PE1", "PE2", "PE3", "PE4", "PE5", "PE6"], "paddingInner": 0.39, "paddingOuter": 0.35},
         "axis": {"labelAngle": -45, "labelFontSize": 11, "labelPadding": 2, "labelFontWeight": {"condition": {"test": "indexof(['ME1','ME3'], datum.value) >= 0", "value": "bold"}, "value": "normal"}, "labelColor": {"condition": {"test": "indexof(['ME1','ME3'], datum.value) >= 0", "value": "#000"}, "value": "#555"}}},
       "y": {"aggregate": "mean", "field": "v", "type": "quantitative", "scale": {"domain": [0, 100], "nice": false}, "axis": {"title": "% Death", "values": [0, 50, 100], "format": "d", "titlePadding": 4, "labelOverlap": false}},
       "color": {"field": "g", "type": "nominal", "scale": {"domain": ["Anc", "ME1", "ME2", "ME3", "PE1", "PE2", "PE3", "PE4", "PE5", "PE6"], "range": ["#7f7f7f", "#7b3f98", "#5f4ea8", "#9c4c9c", "#3fa33f", "#2f9e5a", "#1e8466", "#759559", "#86c064", "#a8d161"]}, "legend": null}}},
     {"data": {"name": "bee"}, "mark": {"type": "errorbar", "extent": "stdev", "color": "#6e6e6e", "ticks": {"size": 9, "color": "#6e6e6e"}, "rule": {"strokeWidth": 1.2}},
      "encoding": {"x": {"field": "g", "type": "nominal", "title": null}, "y": {"field": "v", "type": "quantitative", "axis": {"title": "% Death", "values": [0, 50, 100], "format": "d", "titlePadding": 4, "labelOverlap": false}}}},
     {"data": {"name": "bee"}, "mark": {"type": "circle", "size": 60, "opacity": 0.85, "stroke": "#000", "strokeOpacity": 0.2, "strokeWidth": 0.6},
      "encoding": {"x": {"field": "g", "type": "nominal", "title": null}, "y": {"field": "v", "type": "quantitative", "axis": {"title": "% Death", "values": [0, 50, 100], "format": "d", "titlePadding": 4, "labelOverlap": false}}, "color": {"field": "g", "type": "nominal", "legend": null}}},
     {"data": {"values": [{"r": "PE", "v": 57.5}, {"r": "ME", "v": 32.7}]}, "mark": {"type": "rule", "strokeDash": [2, 2], "strokeWidth": 1.3},
      "encoding": {"y": {"field": "v", "type": "quantitative", "axis": {"title": "% Death", "values": [0, 50, 100], "format": "d", "titlePadding": 4, "labelOverlap": false}}, "stroke": {"field": "r", "type": "nominal", "scale": {"domain": ["PE", "ME"], "range": ["#2ea44f", "#a066c8"]}, "legend": null}}},
     {"data": {"values": [{"r": "PE", "v": 57.5}, {"r": "ME", "v": 32.7}]}, "mark": {"type": "text", "align": "left", "dx": 16, "fontSize": 9, "fontWeight": "bold"},
      "encoding": {"x": {"datum": "PE6", "type": "nominal"}, "y": {"field": "v", "type": "quantitative", "axis": {"title": "% Death", "values": [0, 50, 100], "format": "d", "titlePadding": 4, "labelOverlap": false}}, "text": {"field": "r"}}},
     {"data": {"values": [{"g": "ME1", "y": 62, "t": "*\n*"}, {"g": "ME3", "y": 64, "t": "*\n*\n*"}]}, "mark": {"type": "text", "lineBreak": "\n", "lineHeight": 6.5, "fontSize": 12, "baseline": "middle"},
      "encoding": {"x": {"field": "g", "type": "nominal", "title": null}, "y": {"field": "y", "type": "quantitative", "axis": {"title": "% Death", "values": [0, 50, 100], "format": "d", "titlePadding": 4, "labelOverlap": false}}, "text": {"field": "t"}}},
     {"data": {"values": [{"t": "Virulence in bees"}]}, "mark": {"type": "text", "fontSize": 15, "fontWeight": "bold", "baseline": "alphabetic", "dx": -2, "dy": -9},
      "encoding": {"x": {"datum": "PE2", "type": "nominal", "bandPosition": 0}, "y": {"datum": 100, "type": "quantitative", "axis": {"title": "% Death", "values": [0, 50, 100], "format": "d", "titlePadding": 4, "labelOverlap": false}}, "text": {"field": "t"}}},
     {"data": {"values": [{"t": "(f)"}]}, "mark": {"type": "text", "fontSize": 28, "fontWeight": "bold", "align": "left", "baseline": "alphabetic", "dx": -63, "dy": -11},
      "encoding": {"x": {"datum": "Anc", "type": "nominal", "bandPosition": 0}, "y": {"datum": 100, "type": "quantitative", "axis": {"title": "% Death", "values": [0, 50, 100], "format": "d", "titlePadding": 4, "labelOverlap": false}}, "text": {"field": "t"}}}
    ]
   },
   {
    "width": 234, "height": 157,
    "layer": [
     {"data": {"name": "tox"}, "mark": {"type": "bar", "opacity": 0.22},
      "encoding": {
       "x": {"field": "g", "type": "nominal", "title": null, "scale": {"domain": ["Anc", "ME1", "ME2", "ME3", "PE1", "PE2", "PE3", "PE4", "PE5", "PE6"], "paddingInner": 0.39, "paddingOuter": 0.35},
         "axis": {"labelAngle": -45, "labelFontSize": 11, "labelPadding": 2, "labelFontWeight": {"condition": {"test": "indexof(['PE1','PE5','PE6'], datum.value) >= 0", "value": "bold"}, "value": "normal"}, "labelColor": {"condition": {"test": "indexof(['PE1','PE5','PE6'], datum.value) >= 0", "value": "#000"}, "value": "#555"}}},
       "y": {"aggregate": "mean", "field": "v", "type": "quantitative", "scale": {"domain": [0, 1.2], "nice": false}, "axis": {"title": "% Toxicity", "values": [0, 0.5, 1], "format": ".1f", "titlePadding": 8, "labelOverlap": false}},
       "color": {"field": "g", "type": "nominal", "scale": {"domain": ["Anc", "ME1", "ME2", "ME3", "PE1", "PE2", "PE3", "PE4", "PE5", "PE6"], "range": ["#7f7f7f", "#7b3f98", "#5f4ea8", "#9c4c9c", "#3fa33f", "#2f9e5a", "#1e8466", "#759559", "#86c064", "#a8d161"]}, "legend": null}}},
     {"data": {"name": "tox"}, "mark": {"type": "errorbar", "extent": "stdev", "color": "#6e6e6e", "ticks": {"size": 9, "color": "#6e6e6e"}, "rule": {"strokeWidth": 1.2}},
      "encoding": {"x": {"field": "g", "type": "nominal", "title": null}, "y": {"field": "v", "type": "quantitative", "axis": {"title": "% Toxicity", "values": [0, 0.5, 1], "format": ".1f", "titlePadding": 8, "labelOverlap": false}}}},
     {"data": {"name": "tox"}, "mark": {"type": "circle", "size": 60, "opacity": 0.85, "stroke": "#000", "strokeOpacity": 0.2, "strokeWidth": 0.6},
      "encoding": {"x": {"field": "g", "type": "nominal", "title": null}, "y": {"field": "v", "type": "quantitative", "axis": {"title": "% Toxicity", "values": [0, 0.5, 1], "format": ".1f", "titlePadding": 8, "labelOverlap": false}}, "color": {"field": "g", "type": "nominal", "legend": null}}},
     {"data": {"values": [{"r": "PE", "v": 0.627}, {"r": "ME", "v": 0.8}]}, "mark": {"type": "rule", "strokeDash": [2, 2], "strokeWidth": 1.3},
      "encoding": {"y": {"field": "v", "type": "quantitative", "axis": {"title": "% Toxicity", "values": [0, 0.5, 1], "format": ".1f", "titlePadding": 8, "labelOverlap": false}}, "stroke": {"field": "r", "type": "nominal", "scale": {"domain": ["PE", "ME"], "range": ["#2ea44f", "#a066c8"]}, "legend": null}}},
     {"data": {"values": [{"r": "PE", "v": 0.627}, {"r": "ME", "v": 0.8}]}, "mark": {"type": "text", "align": "left", "dx": 18, "fontSize": 9, "fontWeight": "bold"},
      "encoding": {"x": {"datum": "PE6", "type": "nominal"}, "y": {"field": "v", "type": "quantitative", "axis": {"title": "% Toxicity", "values": [0, 0.5, 1], "format": ".1f", "titlePadding": 8, "labelOverlap": false}}, "text": {"field": "r"}}},
     {"data": {"values": [{"g": "PE1", "y": 0.88, "t": "*\n*\n*"}, {"g": "PE5", "y": 0.93, "t": "*"}, {"g": "PE6", "y": 0.19, "t": "*\n*\n*"}]}, "mark": {"type": "text", "lineBreak": "\n", "lineHeight": 6.5, "fontSize": 12, "baseline": "middle"},
      "encoding": {"x": {"field": "g", "type": "nominal", "title": null}, "y": {"field": "y", "type": "quantitative", "axis": {"title": "% Toxicity", "values": [0, 0.5, 1], "format": ".1f", "titlePadding": 8, "labelOverlap": false}}, "text": {"field": "t"}}},
     {"data": {"values": [{"t": "Toxicity to macrophage"}]}, "mark": {"type": "text", "fontSize": 15, "fontWeight": "bold", "baseline": "alphabetic", "dx": -11, "dy": -11},
      "encoding": {"x": {"datum": "PE2", "type": "nominal", "bandPosition": 0}, "y": {"datum": 1.2, "type": "quantitative", "axis": {"title": "% Toxicity", "values": [0, 0.5, 1], "format": ".1f", "titlePadding": 8, "labelOverlap": false}}, "text": {"field": "t"}}},
     {"data": {"values": [{"t": "(g)"}]}, "mark": {"type": "text", "fontSize": 28, "fontWeight": "bold", "align": "left", "baseline": "alphabetic", "dx": -68, "dy": -11},
      "encoding": {"x": {"datum": "Anc", "type": "nominal", "bandPosition": 0}, "y": {"datum": 1.2, "type": "quantitative", "axis": {"title": "% Toxicity", "values": [0, 0.5, 1], "format": ".1f", "titlePadding": 8, "labelOverlap": false}}, "text": {"field": "t"}}}
    ]
   }
  ]
 }
]
}
